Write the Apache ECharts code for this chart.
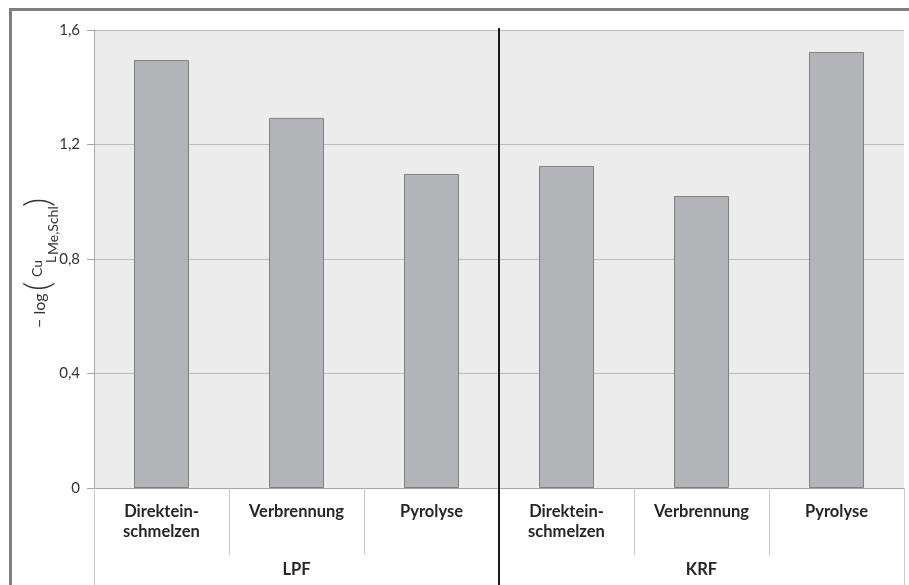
<!DOCTYPE html>
<html>
<head>
<meta charset="utf-8">
<script src="https://cdn.jsdelivr.net/npm/echarts@6/dist/echarts.min.js"></script>
<style>
  html, body { margin: 0; padding: 0; background: #fff; }
  #chart { width: 909px; height: 585px; }
</style>
</head>
<body>
<div id="chart"></div>
<script>
// Kategorien, Gruppen, Werte
const categories = ['Direktein-\nschmelzen', 'Verbrennung', 'Pyrolyse', 'Direktein-\nschmelzen', 'Verbrennung', 'Pyrolyse'];
const groups = ['LPF', 'KRF'];
const values = [1.495, 1.293, 1.097, 1.125, 1.020, 1.523];
const yTicks = [0, 0.4, 0.8, 1.2, 1.6];

const font = 'Lato, "Open Sans", sans-serif';

const chart = echarts.init(document.getElementById('chart'));

const option = {
    animation: false,
    backgroundColor: '#fff',
    grid: {
        left: 94,
        right: 5,
        top: 30,
        bottom: 97,
        show: true,
        backgroundColor: '#ececec',
        borderWidth: 0
    },
    xAxis: [
        {
            type: 'category',
            data: categories,
            axisLine: { show: true, lineStyle: { color: '#a6a6a6', width: 1 } },
            axisTick: { show: true, interval: 0, length: 67, lineStyle: { color: '#c8c8c8' } },
            axisLabel: {
                interval: 0,
                margin: 14,
                fontFamily: font,
                fontWeight: 'bold',
                fontSize: 16.5,
                lineHeight: 20,
                color: '#262626'
            }
        },
        {
            type: 'category',
            data: groups,
            position: 'bottom',
            axisLine: { show: false },
            axisTick: { show: true, interval: 0, length: 97, lineStyle: { color: '#c8c8c8' } },
            axisLabel: {
                margin: 73,
                fontFamily: font,
                fontWeight: 'bold',
                fontSize: 16.5,
                color: '#262626'
            }
        }
    ],
    yAxis: {
        type: 'value',
        min: yTicks[0],
        max: yTicks[yTicks.length - 1],
        interval: 0.4,
        axisLine: { show: true, lineStyle: { color: '#a6a6a6' } },
        axisTick: { show: true, length: 7, lineStyle: { color: '#a6a6a6' } },
        axisLabel: {
            margin: 14,
            fontFamily: font,
            fontSize: 15,
            color: '#333',
            formatter: function (v) { return String(+v.toFixed(1)).replace('.', ','); }
        },
        splitLine: { show: true, lineStyle: { color: '#bcbcbc', width: 1 } }
    },
    series: [
        {
            type: 'bar',
            data: values,
            barWidth: 55,
            itemStyle: {
                color: '#b3b4b8',
                borderColor: '#808080',
                borderWidth: 1
            }
        }
    ]
};

chart.setOption(option);

// Trennlinie zwischen den Gruppen, Rahmen und Achsentitel
const plotTop = chart.convertToPixel({ yAxisIndex: 0 }, yTicks[yTicks.length - 1]);
const c2 = chart.convertToPixel({ xAxisIndex: 0 }, 2);
const c3 = chart.convertToPixel({ xAxisIndex: 0 }, 3);
const midX = Math.round((c2 + c3) / 2);

const txt = '#333';

chart.setOption({
    graphic: [
        {
            type: 'rect',
            shape: { x: 10.5, y: 9.5, width: 1000, height: 700 },
            style: { fill: 'none', stroke: '#7f7f7f', lineWidth: 3 },
            silent: true
        },
        {
            type: 'line',
            shape: { x1: midX, y1: plotTop - 2, x2: midX, y2: 585 },
            style: { stroke: '#1a1a1a', lineWidth: 2 },
            z: 100
        },
        {
            type: 'group',
            x: 44,
            y: 328,
            rotation: Math.PI / 2,
            children: [
                { type: 'text', x: 0, y: -4, style: { text: '\u2212 log', font: '16px ' + font, fill: txt, verticalAlign: 'middle' } },
                { type: 'text', x: 37, y: -6, style: { text: '(', font: '300 36px ' + font, fill: txt, verticalAlign: 'middle' } },
                { type: 'text', x: 51, y: -7, style: { text: 'Cu', font: '14px ' + font, fill: txt, verticalAlign: 'middle' } },
                { type: 'text', x: 65, y: 8, style: { text: 'L', font: '13px ' + font, fill: txt, verticalAlign: 'middle' } },
                { type: 'text', x: 73, y: 9, style: { text: 'Me,Schl', font: '14px ' + font, fill: txt, verticalAlign: 'middle' } },
                { type: 'text', x: 121, y: -6, style: { text: ')', font: '300 36px ' + font, fill: txt, verticalAlign: 'middle' } }
            ]
        }
    ]
});

window.addEventListener('resize', function () {
    chart.resize();
});
</script>
</body>
</html>
